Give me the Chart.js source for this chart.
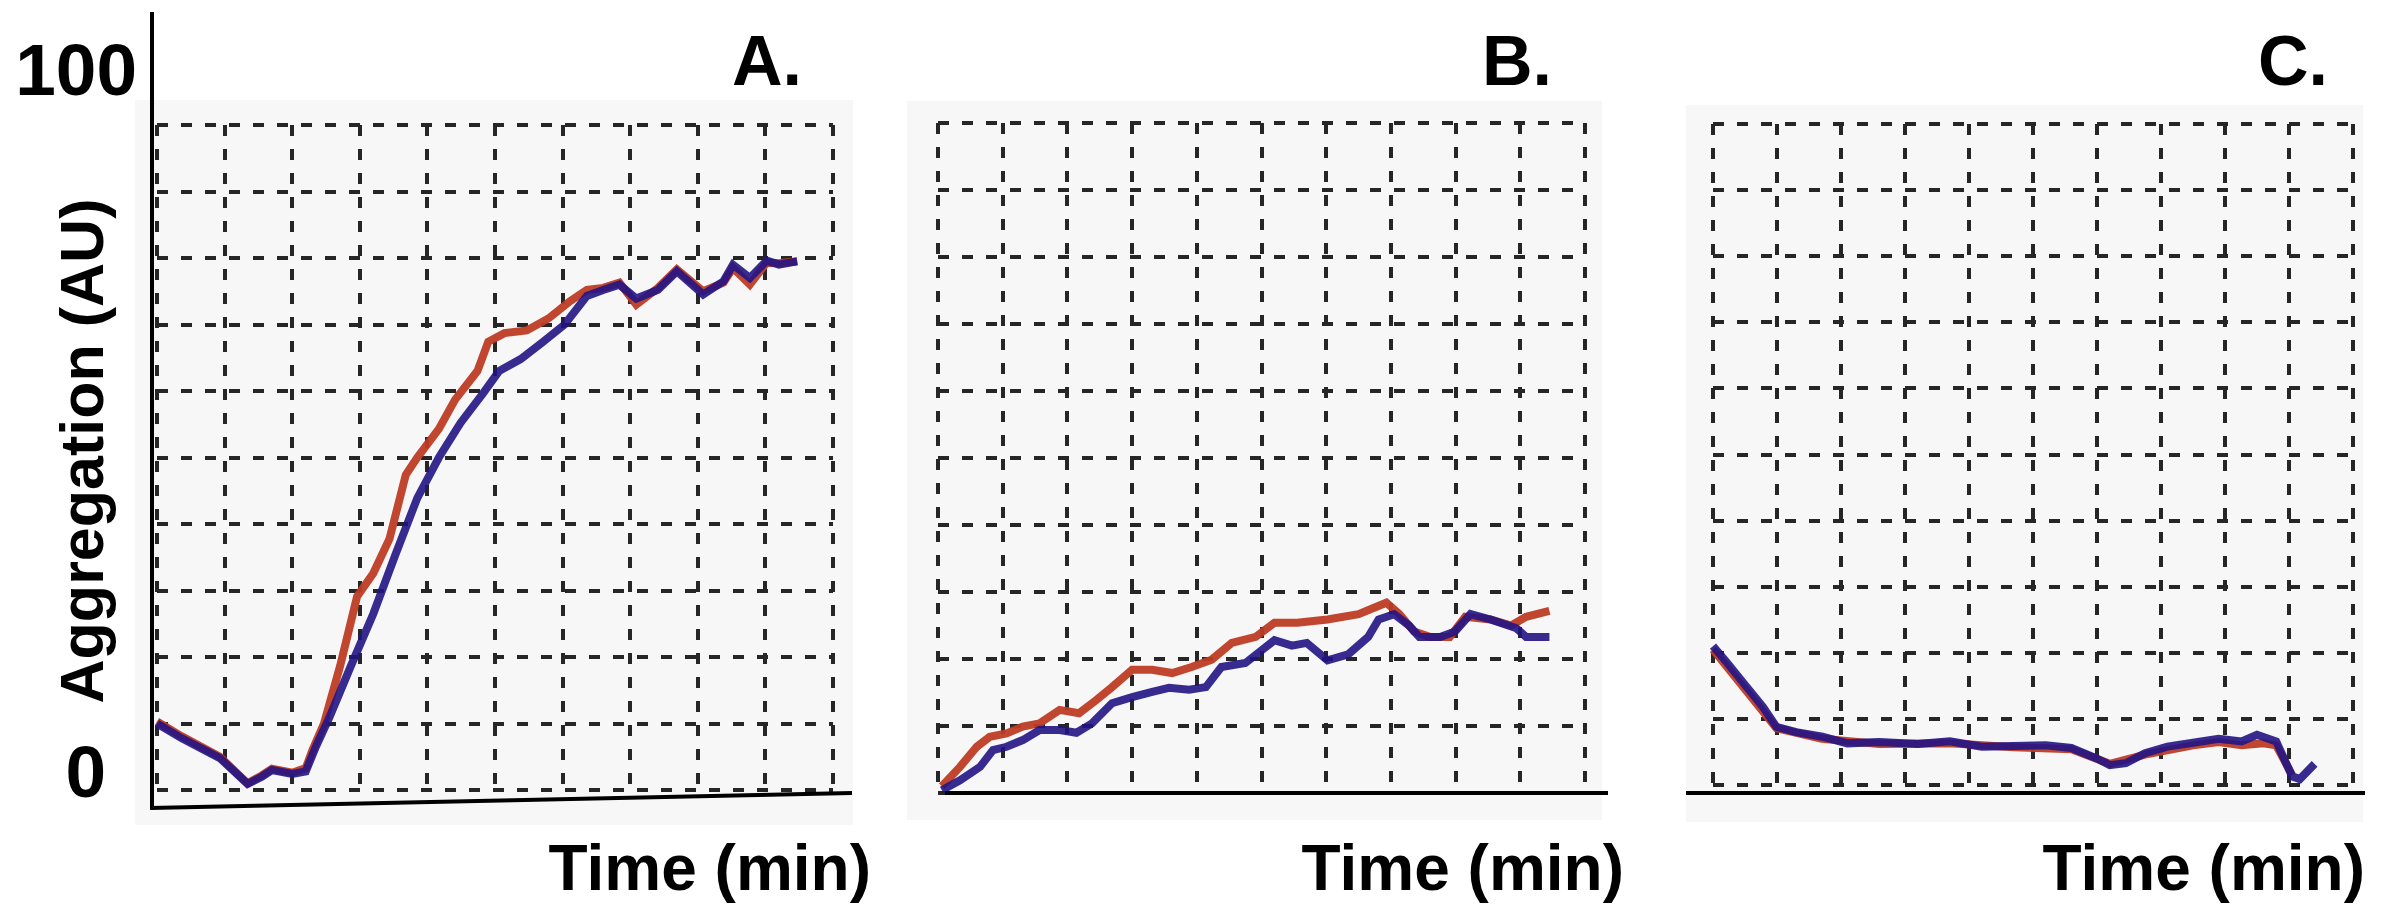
<!DOCTYPE html>
<html lang="en">
<head>
  <meta charset="utf-8">
  <title>Aggregation traces</title>
  <script src="https://cdn.jsdelivr.net/npm/chart.js@4/dist/chart.umd.min.js"></script>
  <style>
    html, body { margin: 0; padding: 0; background: #fff; overflow: hidden; }
    canvas { position: absolute; left: 0; top: 0; }
  </style>
</head>
<body>
  <canvas id="panelA" width="2396" height="906"></canvas>
  <canvas id="panelB" width="2396" height="906"></canvas>
  <canvas id="panelC" width="2396" height="906"></canvas>
  <script>
    // time in grid divisions (0-10), aggregation in AU (0-100)
    var timeA_blue = [0, 0.36, 0.93, 1.34, 1.55, 1.7, 2.0, 2.2, 2.35, 2.55, 2.87, 3.2, 3.52, 3.85, 4.17, 4.49, 4.82, 5.06, 5.38, 5.71, 6.03, 6.36, 6.6, 6.84, 7.09, 7.41, 7.69, 8.08, 8.38, 8.52, 8.77, 9.02, 9.2, 9.47];
    var aggA_blue  = [10, 7.8, 4.8, 0.9, 2.0, 3.0, 2.4, 2.8, 6.5, 10.9, 18.7, 26.5, 35.2, 43.9, 50, 55.2, 59.6, 63, 64.8, 67.4, 70, 74.3, 75.2, 76, 73.9, 75.2, 78, 74.5, 76.5, 79, 77, 79.6, 79, 79.5];
    var timeA_red  = [0, 0.36, 0.93, 1.34, 1.55, 1.7, 2.0, 2.2, 2.3, 2.47, 2.71, 2.96, 3.2, 3.44, 3.68, 3.85, 4.17, 4.41, 4.74, 4.9, 5.14, 5.47, 5.79, 6.11, 6.36, 6.6, 6.84, 7.09, 7.41, 7.69, 8.08, 8.38, 8.52, 8.77, 9.02, 9.2, 9.47];
    var aggA_red   = [10.3, 8.1, 5.0, 1.0, 2.2, 3.2, 2.6, 3.3, 6, 10, 18.7, 29.1, 32.6, 37.8, 47.4, 50, 54.3, 58.7, 63, 67.4, 68.7, 69.1, 70.9, 73.5, 75.2, 75.5, 76.3, 73, 75.5, 78.3, 75, 76.3, 78.5, 76, 79.3, 79.2, 79.5];

    var timeB_blue = [0.06, 0.34, 0.65, 0.85, 1.06, 1.31, 1.57, 1.88, 2.14, 2.38, 2.69, 3.0, 3.31, 3.57, 3.88, 4.14, 4.38, 4.75, 5.0, 5.2, 5.47, 5.7, 6.02, 6.34, 6.65, 6.81, 7.05, 7.28, 7.44, 7.76, 7.99, 8.23, 8.54, 8.94, 9.09, 9.45];
    var aggB_blue  = [0.4, 1.9, 3.9, 6.4, 6.9, 7.9, 9.4, 9.4, 9.0, 10.4, 13.4, 14.3, 15.1, 15.7, 15.4, 15.8, 18.8, 19.4, 21.3, 22.8, 22, 22.4, 19.8, 20.7, 23.3, 25.9, 26.7, 25, 23.3, 23.3, 24.1, 26.7, 25.9, 24.6, 23.3, 23.3];
    var timeB_red  = [0.06, 0.34, 0.6, 0.8, 1.06, 1.31, 1.57, 1.88, 2.18, 2.45, 2.69, 3.0, 3.31, 3.62, 3.92, 4.23, 4.54, 4.91, 5.2, 5.55, 6.02, 6.5, 6.73, 6.93, 7.13, 7.36, 7.6, 7.91, 8.15, 8.54, 8.86, 9.09, 9.45];
    var aggB_red   = [1, 3.9, 6.9, 8.4, 8.9, 9.9, 10.4, 12.4, 11.9, 13.9, 15.8, 18.4, 18.4, 17.9, 18.8, 19.9, 22.4, 23.3, 25.4, 25.4, 25.9, 26.7, 27.6, 28.4, 26.7, 24.1, 23.3, 23.3, 26.3, 25.9, 25, 26.3, 27.2];

    var timeC_blue = [0, 0.22, 0.53, 0.78, 0.99, 1.3, 1.71, 2.1, 2.6, 3.2, 3.7, 4.2, 4.7, 5.2, 5.6, 6.0, 6.2, 6.45, 6.75, 7.1, 7.5, 7.9, 8.26, 8.5, 8.8, 9.05, 9.17, 9.4];
    var aggC_blue  = [21, 18.5, 14.8, 11.8, 8.8, 8.0, 7.3, 6.3, 6.5, 6.2, 6.6, 5.8, 5.9, 6.0, 5.6, 4.0, 3.0, 3.3, 4.8, 5.8, 6.4, 7.0, 6.6, 7.6, 6.6, 1.3, 0.9, 3.2];
    var timeC_red  = [0, 0.5, 0.99, 1.7, 2.6, 3.7, 4.7, 5.6, 6.2, 6.75, 7.5, 7.9, 8.26, 8.6, 8.8, 9.05];
    var aggC_red   = [20.5, 14.5, 8.6, 7.0, 6.2, 6.3, 5.7, 5.4, 3.2, 4.6, 6.0, 6.5, 6.0, 6.3, 6.0, 1.5];

    var BLUE = 'rgba(34,20,132,0.9)';
    var RED = 'rgba(190,60,36,0.95)';
    var GRID = '#262626';
    var FONT = '"Liberation Sans", Arial, sans-serif';

    function pts(t, v) {
      return t.map(function (x, i) { return { x: x, y: v[i] }; });
    }

    // panel backdrop, black axes and labels
    var decor = {
      id: 'decor',
      beforeDraw: function (chart, args, o) {
        var ctx = chart.ctx;
        ctx.save();
        ctx.fillStyle = '#f7f7f7';
        ctx.fillRect(o.bg[0], o.bg[1], o.bg[2], o.bg[3]);
        ctx.restore();
      },
      afterDraw: function (chart, args, o) {
        var ctx = chart.ctx;
        ctx.save();
        ctx.strokeStyle = '#000';
        ctx.lineWidth = 4;
        o.lines.forEach(function (l) {
          ctx.beginPath();
          ctx.moveTo(l[0], l[1]);
          ctx.lineTo(l[2], l[3]);
          ctx.stroke();
        });
        ctx.fillStyle = '#000';
        o.texts.forEach(function (t) {
          ctx.save();
          ctx.font = 'bold ' + t.size + 'px ' + FONT;
          ctx.textAlign = t.align;
          ctx.textBaseline = 'alphabetic';
          ctx.translate(t.x, t.y);
          if (t.rot) ctx.rotate(t.rot);
          ctx.fillText(t.text, 0, 0);
          ctx.restore();
        });
        ctx.restore();
      }
    };

    function makePanel(id, blue, red, pad, deco) {
      return new Chart(document.getElementById(id), {
        type: 'line',
        data: {
          datasets: [
            { label: 'blue', data: blue, borderColor: BLUE, borderWidth: 8, pointRadius: 0, tension: 0, clip: false },
            { label: 'red', data: red, borderColor: RED, borderWidth: 8, pointRadius: 0, tension: 0, clip: false }
          ]
        },
        options: {
          responsive: false,
          animation: false,
          layout: { padding: pad },
          plugins: { legend: { display: false }, tooltip: { enabled: false }, decor: deco },
          scales: {
            x: {
              type: 'linear', min: 0, max: 10,
              ticks: { display: false, stepSize: 1 },
              grid: { color: GRID, lineWidth: 4, drawTicks: false },
              border: { display: false, dash: [11, 13] },
              afterFit: function (s) { s.height = 0; }
            },
            y: {
              min: 0, max: 100,
              ticks: { display: false, stepSize: 10 },
              grid: { color: GRID, lineWidth: 4, drawTicks: false },
              border: { display: false, dash: [11, 13] },
              afterFit: function (s) { s.width = 0; }
            }
          }
        },
        plugins: [decor]
      });
    }

    makePanel('panelA', pts(timeA_blue, aggA_blue), pts(timeA_red, aggA_red),
      { left: 157, right: 1563, top: 125, bottom: 116 },
      {
        bg: [135, 100, 718, 725],
        lines: [[152, 12, 152, 808], [150, 808, 852, 793]],
        texts: [
          { text: '100', x: 137, y: 95, size: 73, align: 'right' },
          { text: '0', x: 106, y: 797, size: 73, align: 'right' },
          { text: 'Aggregation (AU)', x: 103, y: 451, size: 61, align: 'center', rot: -Math.PI / 2 },
          { text: 'A.', x: 732, y: 85, size: 70, align: 'left' },
          { text: 'Time (min)', x: 871, y: 890, size: 64, align: 'right' }
        ]
      });

    makePanel('panelB', pts(timeB_blue, aggB_blue), pts(timeB_red, aggB_red),
      { left: 938, right: 811, top: 123, bottom: 113 },
      {
        bg: [907, 101, 695, 719],
        lines: [[945, 793, 1608, 793]],
        texts: [
          { text: 'B.', x: 1482, y: 85, size: 70, align: 'left' },
          { text: 'Time (min)', x: 1624, y: 890, size: 64, align: 'right' }
        ]
      });

    makePanel('panelC', pts(timeC_blue, aggC_blue), pts(timeC_red, aggC_red),
      { left: 1713, right: 43, top: 124, bottom: 121 },
      {
        bg: [1686, 105, 677, 717],
        lines: [[1686, 793, 2365, 793]],
        texts: [
          { text: 'C.', x: 2258, y: 85, size: 70, align: 'left' },
          { text: 'Time (min)', x: 2365, y: 890, size: 64, align: 'right' }
        ]
      });
  </script>
</body>
</html>
